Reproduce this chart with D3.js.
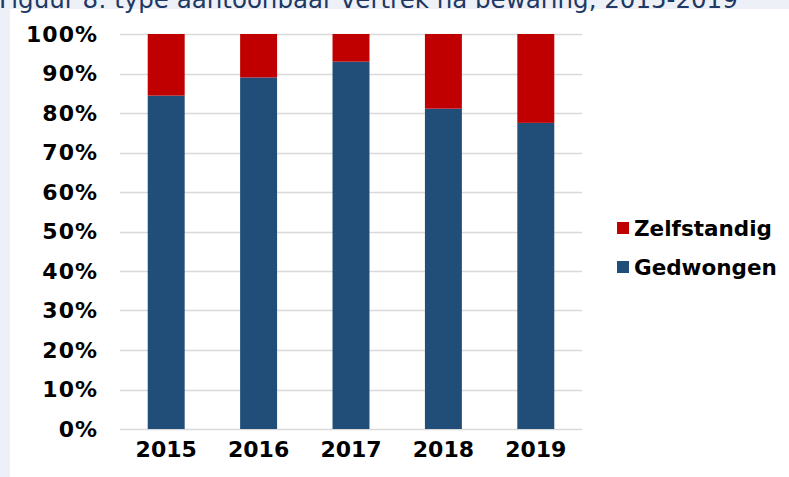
<!DOCTYPE html>
<html>
<head>
<meta charset="utf-8">
<script src="https://cdn.jsdelivr.net/npm/d3@7"></script>
<style>
  body { margin: 0; background: #eef0f7; }
  svg { display: block; }
</style>
</head>
<body>
<svg id="chart"></svg>
<script>
"use strict";

// data
const years = ["2015", "2016", "2017", "2018", "2019"];
const gedwongen = [84.4, 89.0, 93.0, 81.1, 77.5];
const zelfstandig = [15.6, 11.0, 7.0, 18.9, 22.5];
const yTicks = [0, 10, 20, 30, 40, 50, 60, 70, 80, 90, 100];
const seriesNames = ["Gedwongen", "Zelfstandig"];
const seriesColors = ["#204e78", "#c00000"];

const width = 789, height = 477;
const margin = {top: 34, right: 207, bottom: 48, left: 120};

const svg = d3.select('#chart')
    .attr('width', width)
    .attr('height', height);

// white panel, title sits above it on the grey strip
svg.append('rect')
    .attr('x', 10).attr('y', 9)
    .attr('width', width - 10).attr('height', height - 9)
    .attr('fill', '#ffffff');

svg.append('text')
    .attr('x', -1)
    .attr('y', 8)
    .attr('font-family', 'DejaVu Sans')
    .attr('font-size', 24.5)
    .attr('fill', '#203864')
    .text('Figuur 8: type aantoonbaar vertrek na bewaring, 2015-2019');

const x = d3.scaleBand()
    .domain(years)
    .range([margin.left, width - margin.right])
    .paddingInner(0.6)
    .paddingOuter(0.3);

const y = d3.scaleLinear()
    .domain([0, 100])
    .range([height - margin.bottom, margin.top]);

// gridlines
svg.append('g')
    .selectAll('line').data(yTicks)
    .enter()
    .append('line')
    .attr('x1', margin.left)
    .attr('x2', width - margin.right)
    .attr('y1', d => Math.round(y(d)) + 0.5)
    .attr('y2', d => Math.round(y(d)) + 0.5)
    .attr('stroke', '#d9d9d9')
    .attr('stroke-width', 1.5);

// y axis labels
const yAxis = svg.append('g')
    .attr('transform', `translate(${margin.left},0)`)
    .call(d3.axisLeft(y).tickValues(yTicks).tickFormat(d => d + '%').tickSize(0).tickPadding(22));
yAxis.select('.domain').remove();
yAxis.selectAll('text')
    .attr('font-family', 'DejaVu Sans')
    .attr('font-weight', 'bold')
    .attr('font-size', 22)
    .attr('letter-spacing', 1)
    .attr('fill', '#000');

// x axis labels
const xAxis = svg.append('g')
    .attr('transform', `translate(0,${height - margin.bottom})`)
    .call(d3.axisBottom(x).tickSize(0).tickPadding(12));
xAxis.select('.domain').remove();
xAxis.selectAll('text')
    .attr('font-family', 'DejaVu Sans')
    .attr('font-weight', 'bold')
    .attr('font-size', 22)
    .attr('fill', '#000');

// stacked bars
const rows = years.map((yr, i) => ({year: yr, Gedwongen: gedwongen[i], Zelfstandig: zelfstandig[i]}));
const stack = d3.stack().keys(seriesNames)(rows);

svg.append('g')
    .selectAll('g').data(stack)
    .enter()
    .append('g')
    .attr('fill', (d, i) => seriesColors[i])
    .selectAll('rect').data(d => d)
    .enter()
    .append('rect')
    .attr('x', d => x(d.data.year))
    .attr('width', x.bandwidth())
    .attr('y', d => y(d[1]))
    .attr('height', d => y(d[0]) - y(d[1]));

// legend, Zelfstandig on top
const legendItems = [
    {name: "Zelfstandig", color: seriesColors[1]},
    {name: "Gedwongen", color: seriesColors[0]}
];
const legend = svg.append('g')
    .selectAll('g').data(legendItems)
    .enter()
    .append('g')
    .attr('transform', (d, i) => `translate(617,${228 + i * 39})`);
legend.append('rect')
    .attr('x', 0).attr('y', -6)
    .attr('width', 12).attr('height', 12)
    .attr('fill', d => d.color);
legend.append('text')
    .attr('x', 17)
    .attr('dy', '0.36em')
    .attr('font-family', 'DejaVu Sans')
    .attr('font-weight', 'bold')
    .attr('font-size', 21.5)
    .attr('fill', '#000')
    .text(d => d.name);
</script>
</body>
</html>
